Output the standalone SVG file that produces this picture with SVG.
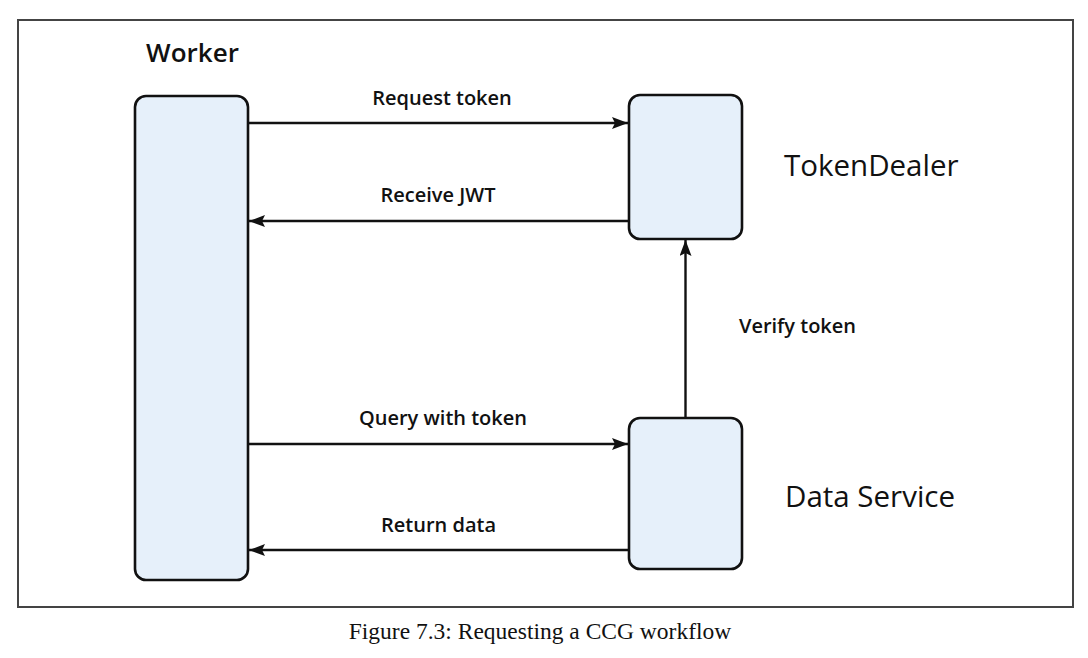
<svg xmlns="http://www.w3.org/2000/svg" width="1088" height="658" viewBox="0 0 1088 658">
<style>
.box{fill:#E6F0FA;stroke:#111;stroke-width:2.6}
.conn{stroke:#111;stroke-width:2.4;fill:none;marker-end:url(#ah)}
.lbl{font-family:"Open Sans",sans-serif;font-weight:600;font-size:20px;fill:#111;text-anchor:middle}
.title{font-family:"Open Sans",sans-serif;font-size:29.5px;fill:#111}
.cap{font-family:"Liberation Serif",serif;font-size:23.5px;fill:#111;text-anchor:middle}
</style>
<defs>
<marker id="ah" viewBox="0 0 16 12" refX="16" refY="6" markerWidth="16" markerHeight="12" markerUnits="userSpaceOnUse" orient="auto">
<path d="M0,0 L16,6 L0,12 L3,6 Z" fill="#111"/>
</marker>
</defs>
<rect width="1088" height="658" fill="#fff"/>
<rect x="18" y="20" width="1055" height="587" fill="none" stroke="#444" stroke-width="2"/>
<g id="worker">
<rect class="box" x="135" y="96" width="113" height="484" rx="11"/>
<text x="192.5" y="62" text-anchor="middle" font-family="Open Sans, sans-serif" font-weight="600" font-size="26" fill="#111">Worker</text>
</g>
<g id="tokendealer">
<rect class="box" x="629" y="95" width="113" height="144" rx="11"/>
<text class="title" x="784" y="176">TokenDealer</text>
</g>
<g id="dataservice">
<rect class="box" x="629" y="418" width="113" height="151" rx="11"/>
<text class="title" x="785" y="507">Data Service</text>
</g>
<g id="connectors">
<line class="conn" x1="249" y1="123" x2="628" y2="123"/>
<text class="lbl" x="442" y="105">Request token</text>
<line class="conn" x1="628" y1="221" x2="249" y2="221"/>
<text class="lbl" x="438" y="202">Receive JWT</text>
<line class="conn" x1="685.5" y1="417" x2="685.5" y2="240"/>
<text class="lbl" x="797.5" y="333">Verify token</text>
<line class="conn" x1="249" y1="444" x2="628" y2="444"/>
<text class="lbl" x="443" y="425">Query with token</text>
<line class="conn" x1="628" y1="550" x2="249" y2="550"/>
<text class="lbl" x="438.5" y="532">Return data</text>
</g>
<text class="cap" x="540" y="639">Figure 7.3: Requesting a CCG workflow</text>
</svg>
